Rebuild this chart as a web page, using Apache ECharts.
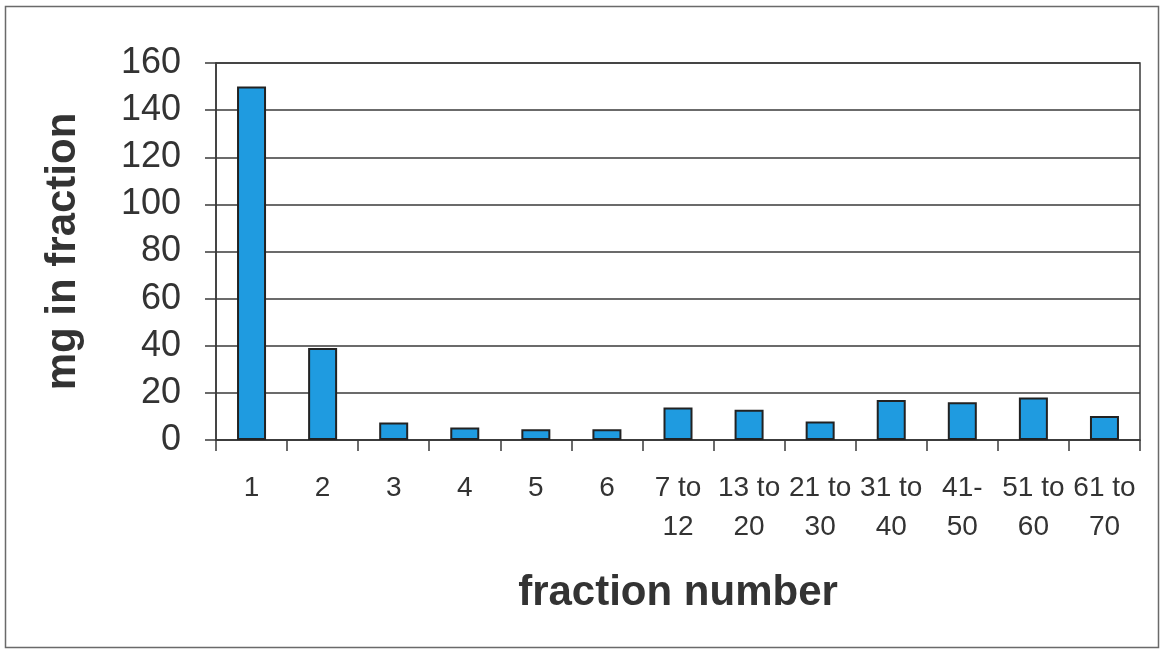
<!DOCTYPE html>
<html>
<head>
<meta charset="utf-8">
<style>
  html, body { margin: 0; padding: 0; background: #ffffff; }
  #chart { width: 1162px; height: 650px; }
</style>
<script src="https://cdn.jsdelivr.net/npm/echarts@6/dist/echarts.min.js"></script>
</head>
<body>
<div id="chart"></div>
<script>
const categories = ['1', '2', '3', '4', '5', '6', '7 to\n12', '13 to\n20', '21 to\n30', '31 to\n40', '41-\n50', '51 to\n60', '61 to\n70'];
const mgValues = [150, 39, 7.4, 5.3, 4.6, 4.6, 13.8, 12.8, 7.8, 17, 16, 18, 10.2];
const yTicks = { min: 0, max: 160, interval: 20 };
const xTitle = 'fraction number';
const yTitle = 'mg in fraction';

const font = "'Liberation Sans', Arial, sans-serif";
const textColor = '#333333';
const lineColor = '#3a3a3a';

const chart = echarts.init(document.getElementById('chart'), null, { renderer: 'canvas' });
chart.setOption({
  animation: false,
  backgroundColor: '#ffffff',
  graphic: [{
    type: 'rect',
    shape: { x: 5.5, y: 6.5, width: 1153, height: 641 },
    style: { fill: 'none', stroke: '#6a6a6a', lineWidth: 1.5 },
    silent: true
  }],
  grid: {
    left: 216, right: 22, top: 63, bottom: 210,
    show: true, borderColor: lineColor, borderWidth: 1.5, backgroundColor: 'transparent'
  },
  xAxis: {
    type: 'category',
    data: categories,
    boundaryGap: true,
    name: xTitle,
    nameLocation: 'middle',
    nameGap: 132,
    nameTextStyle: { fontFamily: font, fontSize: 42, fontWeight: 'bold', color: textColor },
    axisLine: { show: true, lineStyle: { color: lineColor, width: 1.5 } },
    axisTick: { show: true, alignWithLabel: false, length: 11, inside: false, lineStyle: { color: lineColor, width: 1.5 } },
    axisLabel: { interval: 0, margin: 29, fontFamily: font, fontSize: 28, color: textColor, lineHeight: 39 },
    splitLine: { show: false }
  },
  yAxis: {
    type: 'value',
    min: yTicks.min, max: yTicks.max, interval: yTicks.interval,
    name: yTitle,
    nameLocation: 'middle',
    nameGap: 132,
    nameRotate: 90,
    nameTextStyle: { fontFamily: font, fontSize: 42, fontWeight: 'bold', color: textColor },
    axisLine: { show: true, lineStyle: { color: lineColor, width: 1.5 } },
    axisTick: { show: true, length: 11, lineStyle: { color: lineColor, width: 1.5 } },
    axisLabel: { margin: 35, fontFamily: font, fontSize: 36, color: textColor },
    splitLine: { show: true, lineStyle: { color: lineColor, width: 1.5 } }
  },
  series: [{
    type: 'bar',
    data: mgValues,
    barWidth: 29,
    itemStyle: { color: '#1f9be0', borderColor: '#222222', borderWidth: 2 },
    silent: true
  }]
});
</script>
</body>
</html>
